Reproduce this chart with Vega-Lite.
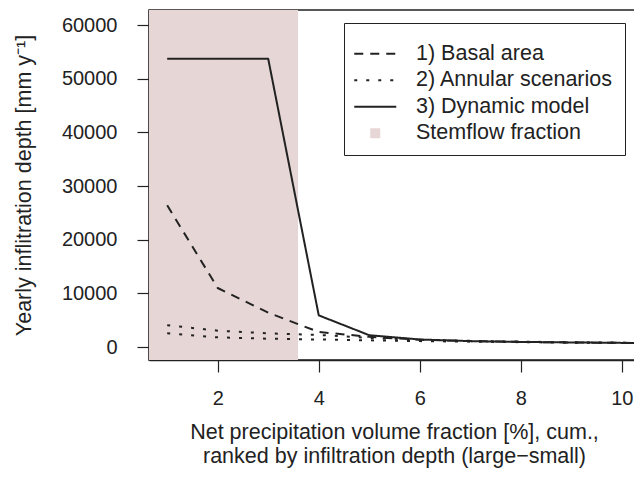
{
  "$schema": "https://vega.github.io/schema/vega-lite/v6.json",
  "width": 486,
  "height": 350,
  "autosize": "none",
  "padding": {"left": 149, "top": 10, "right": -1, "bottom": 132},
  "background": "white",
  "config": {
    "view": {"stroke": "#222222", "strokeWidth": 1.5},
    "style": {"guide-label": {"fontSize": 21.5}},
    "font": "Liberation Sans",
    "axis": {
      "labelFont": "Liberation Sans",
      "titleFont": "Liberation Sans",
      "labelColor": "#222222",
      "titleColor": "#222222",
      "tickColor": "#222222",
      "domainColor": "#222222",
      "grid": false,
      "domain": true,
      "zindex": 2,
      "domainWidth": 1.5,
      "titleFontWeight": "normal",
      "labelFontSize": 20,
      "titleFontSize": 21.5,
      "tickSize": 12,
      "tickWidth": 1.2
    }
  },
  "datasets": {
    "stem": [{"from": 0.64, "to": 3.59}],
    "lines": [
      {"x": 1, "y": 26400, "series": "1) Basal area", "sub": "b"},
      {"x": 2, "y": 11000, "series": "1) Basal area", "sub": "b"},
      {"x": 3, "y": 6400, "series": "1) Basal area", "sub": "b"},
      {"x": 4, "y": 2800, "series": "1) Basal area", "sub": "b"},
      {"x": 5, "y": 1900, "series": "1) Basal area", "sub": "b"},
      {"x": 6, "y": 1350, "series": "1) Basal area", "sub": "b"},
      {"x": 7, "y": 1100, "series": "1) Basal area", "sub": "b"},
      {"x": 8, "y": 950, "series": "1) Basal area", "sub": "b"},
      {"x": 9, "y": 850, "series": "1) Basal area", "sub": "b"},
      {"x": 10, "y": 780, "series": "1) Basal area", "sub": "b"},
      {"x": 11, "y": 720, "series": "1) Basal area", "sub": "b"},
      {"x": 1, "y": 4050, "series": "2) Annular scenarios", "sub": "a1"},
      {"x": 2, "y": 3050, "series": "2) Annular scenarios", "sub": "a1"},
      {"x": 3, "y": 2550, "series": "2) Annular scenarios", "sub": "a1"},
      {"x": 4, "y": 2250, "series": "2) Annular scenarios", "sub": "a1"},
      {"x": 5, "y": 1700, "series": "2) Annular scenarios", "sub": "a1"},
      {"x": 6, "y": 1350, "series": "2) Annular scenarios", "sub": "a1"},
      {"x": 7, "y": 1150, "series": "2) Annular scenarios", "sub": "a1"},
      {"x": 8, "y": 1000, "series": "2) Annular scenarios", "sub": "a1"},
      {"x": 9, "y": 880, "series": "2) Annular scenarios", "sub": "a1"},
      {"x": 10, "y": 800, "series": "2) Annular scenarios", "sub": "a1"},
      {"x": 11, "y": 730, "series": "2) Annular scenarios", "sub": "a1"},
      {"x": 1, "y": 2550, "series": "2) Annular scenarios", "sub": "a2"},
      {"x": 2, "y": 1800, "series": "2) Annular scenarios", "sub": "a2"},
      {"x": 3, "y": 1550, "series": "2) Annular scenarios", "sub": "a2"},
      {"x": 4, "y": 1400, "series": "2) Annular scenarios", "sub": "a2"},
      {"x": 5, "y": 1250, "series": "2) Annular scenarios", "sub": "a2"},
      {"x": 6, "y": 1100, "series": "2) Annular scenarios", "sub": "a2"},
      {"x": 7, "y": 1000, "series": "2) Annular scenarios", "sub": "a2"},
      {"x": 8, "y": 900, "series": "2) Annular scenarios", "sub": "a2"},
      {"x": 9, "y": 820, "series": "2) Annular scenarios", "sub": "a2"},
      {"x": 10, "y": 760, "series": "2) Annular scenarios", "sub": "a2"},
      {"x": 11, "y": 700, "series": "2) Annular scenarios", "sub": "a2"},
      {"x": 1, "y": 53700, "series": "3) Dynamic model", "sub": "d"},
      {"x": 2, "y": 53700, "series": "3) Dynamic model", "sub": "d"},
      {"x": 3, "y": 53700, "series": "3) Dynamic model", "sub": "d"},
      {"x": 4, "y": 5900, "series": "3) Dynamic model", "sub": "d"},
      {"x": 5, "y": 2200, "series": "3) Dynamic model", "sub": "d"},
      {"x": 6, "y": 1400, "series": "3) Dynamic model", "sub": "d"},
      {"x": 7, "y": 1100, "series": "3) Dynamic model", "sub": "d"},
      {"x": 8, "y": 950, "series": "3) Dynamic model", "sub": "d"},
      {"x": 9, "y": 850, "series": "3) Dynamic model", "sub": "d"},
      {"x": 10, "y": 770, "series": "3) Dynamic model", "sub": "d"},
      {"x": 11, "y": 700, "series": "3) Dynamic model", "sub": "d"}
    ]
  },
  "layer": [
    {
      "data": {"name": "stem"},
      "mark": {"type": "rect", "color": "#e6d6d6"},
      "encoding": {
        "x": {
          "field": "from",
          "type": "quantitative",
          "scale": {"domain": [0.64, 10.26], "nice": false, "zero": false}
        },
        "x2": {"field": "to"}
      }
    },
    {
      "data": {"name": "lines"},
      "mark": {"type": "line", "clip": true, "strokeJoin": "round"},
      "encoding": {
        "x": {
          "field": "x",
          "type": "quantitative",
          "axis": {
            "orient": "bottom",
            "domain": true,
            "values": [2, 4, 6, 8, 10],
            "labelPadding": 16,
            "title": ["Net precipitation volume fraction [%], cum.,", "ranked by infiltration depth (large\u2212small)"],
            "titlePadding": 13,
            "titleLineHeight": 24,
            "titleX": 245
          }
        },
        "y": {
          "field": "y",
          "type": "quantitative",
          "scale": {"domain": [-2420, 62800], "nice": false, "zero": false},
          "axis": {
            "domain": true,
            "values": [0, 10000, 20000, 30000, 40000, 50000, 60000],
            "format": "d",
            "labelPadding": 20,
            "title": "Yearly inflitration depth [mm y\u207b\u00b9]",
            "titlePadding": 26
          }
        },
        "stroke": {
          "field": "series",
          "type": "nominal",
          "scale": {
            "domain": ["1) Basal area", "2) Annular scenarios", "3) Dynamic model", "Stemflow fraction"],
            "range": ["#222222", "#222222", "#222222", "#e6d6d6"]
          }
        },
        "strokeWidth": {
          "field": "series",
          "type": "ordinal",
          "scale": {
            "type": "ordinal",
            "domain": ["1) Basal area", "2) Annular scenarios", "3) Dynamic model", "Stemflow fraction"],
            "range": [2, 2, 2, 10]
          }
        },
        "strokeDash": {
          "field": "series",
          "type": "nominal",
          "scale": {
            "domain": ["1) Basal area", "2) Annular scenarios", "3) Dynamic model", "Stemflow fraction"],
            "range": [[9, 7], [3, 9], [1, 0], [0, 16, 10, 40]]
          },
          "legend": {
            "orient": "none",
            "legendX": 195,
            "legendY": 13,
            "title": " ",
            "titleFontSize": 1,
            "titlePadding": 8,
            "strokeColor": "#222222",
            "fillColor": "white",
            "padding": 11,
            "cornerRadius": 0,
            "labelFont": "Liberation Sans",
            "labelFontSize": 21.5,
            "labelColor": "#222222",
            "labelLimit": 400,
            "symbolType": "M-4.2,0H4.2",
            "symbolSize": 100,
            "symbolOffset": 9.5,
            "labelOffset": 30,
            "rowPadding": 3.5,
            "encode": {
              "symbols": {
                "update": {
                  "strokeJoin": {"value": "round"}
                }
              }
            }
          }
        },
        "detail": {"field": "sub"}
      }
    }
  ]
}
